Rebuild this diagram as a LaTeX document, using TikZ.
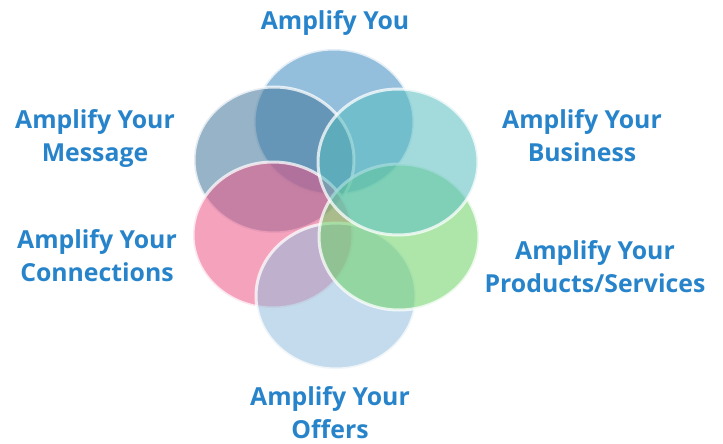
\documentclass[tikz,border=0pt]{standalone}
\usepackage{fontspec}
\setmainfont{Open Sans}
\usepackage{tikz}
\usetikzlibrary{shapes.geometric}

\definecolor{youblue}{RGB}{59,137,191}
\definecolor{msgblue}{RGB}{66,117,153}
\definecolor{conpink}{RGB}{237,86,135}
\definecolor{offblue}{RGB}{146,189,220}
\definecolor{prodgreen}{RGB}{108,210,101}
\definecolor{busteal}{RGB}{88,190,193}
\definecolor{textblue}{RGB}{40,132,202}

\begin{document}
\begin{tikzpicture}[x=1pt,y=-1pt,
  petal/.style={ellipse,draw=white,draw opacity=0.75,line width=3pt,
    fill opacity=0.55,minimum width=160pt,minimum height=146pt,inner sep=0pt},
  caption/.style={anchor=north,inner sep=0pt,align=center,text=textblue,
    font=\bfseries\fontsize{24.8}{33}\selectfont}]
\useasboundingbox (0,0) rectangle (723,444);

% the six petals
\node (you)[petal,fill=youblue] at (334,122) {};
\node (message)[petal,fill=msgblue] at (274,160) {};
\node (connections)[petal,fill=conpink] at (273,235) {};
\node (offers)[petal,fill=offblue] at (336,296) {};
\node (products)[petal,fill=prodgreen] at (399,237) {};
\node (business)[petal,fill=busteal] at (398,162) {};

% the captions
\node (youtxt)[caption] at (335,10.5) {Amplify You};
\node (messagetxt)[caption] at (95,109.5) {Amplify Your\\Message};
\node (businesstxt)[caption] at (582,109.5) {Amplify Your\\Business};
\node (connectionstxt)[caption] at (97,229.5) {Amplify Your\\Connections};
\node (productstxt)[caption] at (595,240.5) {Amplify Your\\Products/Services};
\node (offerstxt)[caption] at (330,386.5) {Amplify Your\\Offers};
\end{tikzpicture}
\end{document}
